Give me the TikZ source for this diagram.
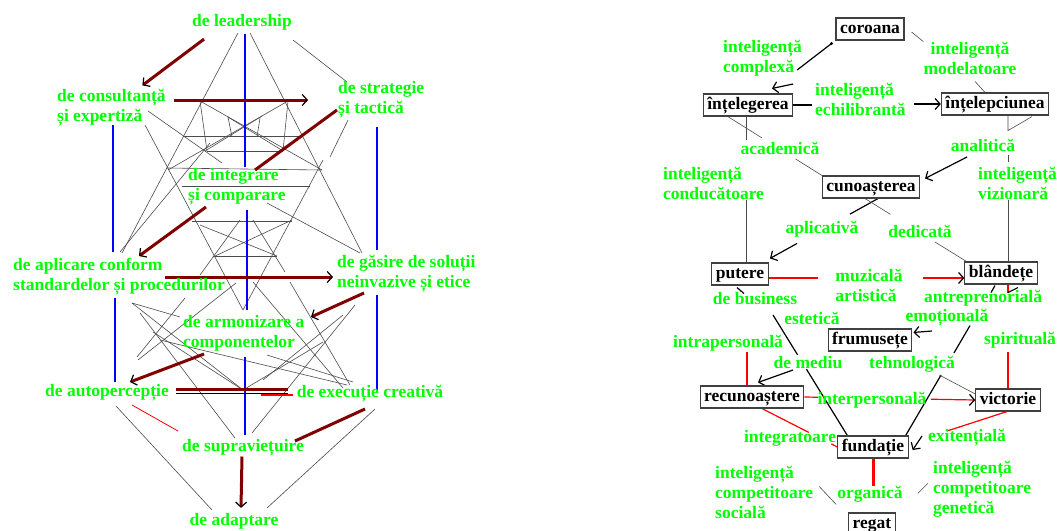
\documentclass[tikz,border=0pt]{standalone}
\usepackage{fontspec}
\setmainfont{Liberation Serif}
\usetikzlibrary{arrows.meta,calc,backgrounds}
\definecolor{lgreen}{RGB}{0,255,0}
\definecolor{dred}{RGB}{128,0,0}
\definecolor{lblue}{RGB}{0,0,255}
\definecolor{lred}{RGB}{255,0,0}
\tikzset{
    lbl/.style = {text=lgreen, font=\bfseries\fontsize{17.5}{20}\selectfont,
        inner sep=0pt, align=left},
    box/.style = {draw=black!75, line width=1.1pt,
        font=\bfseries\fontsize{17.5}{20}\selectfont,
        inner xsep=4pt, inner ysep=3pt, text height=12pt, text depth=4pt},
    thinl/.style = {draw=black!70, line width=0.6pt},
    blk/.style = {draw=black, line width=1.2pt},
    redl/.style = {draw=lred, line width=1.2pt},
    blueline/.style = {draw=lblue, line width=2.6pt},
    brline/.style = {draw=dred, line width=3pt},
    barb/.style = {-{Straight Barb[color=black,length=5pt,width=11pt,line width=1.2pt]}}
}
% line from #2 to #3, left open between #4 and #5
\newcommand{\gapdraw}[5]{%
    \path (#2) -- coordinate[pos=#4] (gA) coordinate[pos=#5] (gB) (#3);
    \draw[#1] (#2) -- (gA) (gB) -- (#3);
}
\begin{document}
\begin{tikzpicture}[x=1pt, y=-1pt]
    \useasboundingbox (0,0) rectangle (1057,530);
    % left tree
    \node[lbl] (lead) at (242,22) {de leadership};
    \node[lbl, anchor=west] (cons) at (57,108) {de consultanță\\și expertiză};
    \node[lbl, anchor=west] (strat) at (338,100) {de strategie\\și tactică};
    \node[lbl, anchor=west] (integ) at (188,187) {de integrare\\și comparare};
    \node[lbl, anchor=west] (aplic) at (13,277) {de aplicare conform\\standardelor și procedurilor};
    \node[lbl, anchor=west] (gasire) at (337,274) {de găsire de soluții\\neinvazive și etice};
    \node[lbl, anchor=west] (armon) at (183,333) {de armonizare a\\componentelor};
    \node[lbl] (autop) at (107,393) {de autopercepție};
    \node[lbl] (exec) at (370,394) {de execuție creativă};
    \node[lbl] (supra) at (243,448) {de supraviețuire};
    \node[lbl] (adapt) at (234,521) {de adaptare};
    % right diagram
    \node[box] (cor) at (870,29) {coroana};
    \node[box] (intg) at (748,105) {înțelegerea};
    \node[box] (intp) at (995,104) {înțelepciunea};
    \node[box] (cun) at (871,187) {cunoașterea};
    \node[box] (put) at (740,274) {putere};
    \node[box] (bla) at (1001,273) {blândețe};
    \node[box] (fru) at (870,340) {frumusețe};
    \node[box] (rec) at (752,397) {recunoaștere};
    \node[box] (vic) at (1008,400) {victorie};
    \node[box] (fun) at (873,447) {fundație};
    \node[box] (reg) at (872,524) {regat};
    \node[lbl, anchor=west] (l_compl) at (723,58) {inteligență\\complexă};
    \node[lbl, align=center] (l_model) at (970,58) {inteligență\\modelatoare};
    \node[lbl, anchor=west] (l_echil) at (815,99) {inteligență\\echilibrantă};
    \node[lbl] (l_acad) at (780,148) {academică};
    \node[lbl] (l_anal) at (983,145) {analitică};
    \node[lbl, anchor=west] (l_cond) at (663,183) {inteligență\\conducătoare};
    \node[lbl, anchor=west] (l_viz) at (978,183) {inteligență\\vizionară};
    \node[lbl] (l_aplic) at (822,229) {aplicativă};
    \node[lbl] (l_dedic) at (920,231) {dedicată};
    \node[lbl] (l_muz) at (869,285) {muzicală\\artistică};
    \node[lbl] (l_busi) at (755,299) {de business};
    \node[lbl] (l_estet) at (812,318) {estetică};
    \node[lbl] (l_antr) at (983,298) {antreprenorială};
    \node[lbl] (l_emot) at (947,318) {emoțională};
    \node[lbl] (l_intra) at (728,343) {intrapersonală};
    \node[lbl] (l_spir) at (1020,340) {spirituală};
    \node[lbl] (l_mediu) at (808,363) {de mediu};
    \node[lbl] (l_tehno) at (912,364) {tehnologică};
    \node[lbl] (l_inter) at (872,400) {interpersonală};
    \node[lbl] (l_integ) at (790,438) {integratoare};
    \node[lbl] (l_exit) at (967,438) {exitențială};
    \node[lbl, anchor=west] (l_soc) at (715,492) {inteligență\\competitoare\\socială};
    \node[lbl] (l_org) at (870,494) {organică};
    \node[lbl, anchor=west] (l_gen) at (933,489) {inteligență\\competitoare\\genetică};

    \begin{scope}[on background layer]
        \fill[white] (0,0) rectangle (1057,530);
        % lattice of the tree
        \foreach \xa/\ya/\xb/\yb in {238/33/122/253, 250/33/362/253, 293/40/347/82,
            200/101/207/151, 288/101/283/151, 200/101/322/170, 288/101/168/170,
            183/136/303/136, 207/151/283/151, 167/168/322/170, 148/111/222/163,
            205/151/262/116, 228/117/283/151, 228/117/232/137, 260/118/257/137,
            145/125/243/310, 323/160/243/310, 210/143/120/252, 348/120/330/157,
            182/186/310/186, 192/221/292/221, 213/256/277/256, 267/203/360/253,
            200/225/277/256, 292/220/213/257, 240/220/200/275, 253/220/285/272,
            132/303/180/317, 132/303/243/390, 185/298/137/357, 140/313/235/438,
            355/305/252/433, 160/340/347/385, 253/282/343/388, 267/355/353/382,
            323/342/243/390, 343/315/263/380, 153/332/243/390, 236/283/138/360,
            290/282/350/385, 116/406/212/510, 375/409/267/508}
            \draw[thinl] (\xa,\ya) -- (\xb,\yb);
        \foreach \xa/\ya/\yb in {245/34/167, 247/210/310, 245/357/435,
            113/125/252, 115/298/382, 377/127/250, 377/295/393}
            \draw[blueline] (\xa,\ya) -- (\xa,\yb);
        \draw[brline, barb] ([shift={(-38,9)}]lead.south) -- ([shift={(31,-4)}]cons.north);
        \draw[brline, barb] ([shift={(8,-8)}]cons.east) -- ([shift={(-30,0)}]strat.west);
        \draw[brline] ([shift={(-1,10)}]strat.west) -- ([shift={(67,-17)}]integ.west);
        \draw[brline, barb] ([shift={(18,20)}]integ.west) -- ([shift={(126,-21)}]aplic.west);
        \draw[brline, barb] ([shift={(152,0)}]aplic.west) -- ([shift={(-4,3)}]gasire.west);
        \draw[brline, barb] ([shift={(27,19)}]gasire.west) -- ([shift={(128,-16)}]armon.west);
        \draw[brline, barb] ([shift={(21,21)}]armon.west) -- ([shift={(23,-11)}]autop.center);
        \draw[brline] ([shift={(7,-4)}]autop.east) -- ([shift={(-9,-5)}]exec.west);
        \draw[black, line width=1pt] ([shift={(7,0)}]autop.east) -- ([shift={(-9,-1)}]exec.west);
        \draw[redl] ([shift={(-36,1)}]exec.west) -- ([shift={(-4,1)}]exec.west);
        \draw[brline] ([shift={(-5,15)}]exec.center) -- ([shift={(52,-7)}]supra.center);
        \draw[brline, barb] ([shift={(-1,0)}]supra.south) -- ([shift={(7,-5)}]adapt.north);
        \draw[redl, line width=0.8pt] ([shift={(25,12)}]autop.center) -- ([shift={(-65,-17)}]supra.center);

        % connectors of the right diagram
        \draw[blk] ([shift={(-4,3)}]cor.south west) -- ([shift={(-5,12)}]l_compl.east);
        \fill ([shift={(-4,3)}]cor.south west) circle (1.6);
        \draw[blk, barb] ([shift={(-9,26)}]l_compl.east) -- ([shift={(24,-5)}]intg.north);
        \draw[thinl] ([shift={(7,3)}]cor.east) -- (l_model.north west);
        \draw[thinl] ([shift={(5,7)}]l_model.south) -- ([shift={(-10,0)}]intp.north);
        \draw[blk, line width=1.6pt] (intg.east) -- ($(intg.east -| l_echil.west)+(-3,0)$);
        \draw[blk, line width=1.6pt, barb] ($(l_echil.east |- intp.west)+(8,0)$) -- (intp.west);
        \gapdraw{thinl}{[shift={(25,0)}]intg.south west}{cun.north west}{0.36}{0.72}
        \gapdraw{thinl}{[shift={(-2,0)}]intg.south}{[shift={(6,0)}]put.north}{0.16}{0.57}
        \draw[thinl] ([shift={(13,0)}]intp.south) -- ++(0,15) -- ([shift={(37,1)}]intp.south);
        \draw[blk, barb] ([shift={(-16,12)}]l_anal.center) -- ([shift={(5,3)}]cun.north east);
        \gapdraw{thinl}{[shift={(25,10)}]l_anal.center}{[shift={(7,0)}]bla.north}{0.07}{0.42}
        \gapdraw{blk, barb}{[shift={(7,0)}]cun.south}{[shift={(30,-4)}]put.north}{0.26}{0.75}
        \gapdraw{thinl}{[shift={(-6,0)}]cun.south}{[shift={(2,0)}]bla.north west}{0.25}{0.69}
        \gapdraw{redl, barb}{[shift={(0,4)}]put.east}{[shift={(0,5)}]bla.west}{0.25}{0.79}
        \draw[blk] ([shift={(-3,2)}]put.south) -- ++(7,6);
        \draw[blk] ([shift={(-6,1)}]bla.south) -- ++(-4,7);
        \draw[redl] ([shift={(7,0)}]bla.south) -- ++(0,8);
        \draw[blk] ([shift={(7,8)}]bla.south) -- ++(10,-5);
        \gapdraw{blk}{[shift={(18,16)}]l_busi.center}{[shift={(10,0)}]fun.north west}{0.33}{0.45}
        \gapdraw{blk}{[shift={(-31,41)}]bla.south}{[shift={(-3,0)}]fun.north east}{0.25}{0.45}
        \draw[blk, barb] ([shift={(-15,13)}]l_emot.center) -- ([shift={(1,4)}]fru.north east);
        \draw[blk, barb] ([shift={(-15,7)}]l_mediu.center) -- ([shift={(6,-3)}]rec.north);
        \draw[thinl] ([shift={(-36,-25)}]vic.west) -- ([shift={(0,-6)}]vic.west);
        \gapdraw{redl, barb}{rec.east}{vic.west}{0.08}{0.74}
        \gapdraw{redl}{[shift={(10,0)}]rec.south}{fun.west}{0.62}{0.92}
        \draw[redl] ([shift={(19,9)}]l_intra.center) -- ([shift={(-5,0)}]rec.north);
        \draw[redl] ([shift={(-12,12)}]l_spir.center) -- (vic.north);
        \draw[redl] ([shift={(-1,0)}]vic.south) -- ([shift={(-20,-7)}]l_exit.center);
        \draw[blk, barb] ([shift={(-45,-2)}]l_exit.center) -- ([shift={(4,3)}]fun.east);
        \draw[redl, line width=3pt] (fun.south) -- (fun.south |- l_org.north);
        \draw[thinl] ([shift={(-29,-26)}]reg.north west) -- ([shift={(-12,-8)}]reg.north west);
        \draw[thinl] ([shift={(22,-19)}]reg.north east) -- ([shift={(32,-29)}]reg.north east);
    \end{scope}
\end{tikzpicture}
\end{document}
